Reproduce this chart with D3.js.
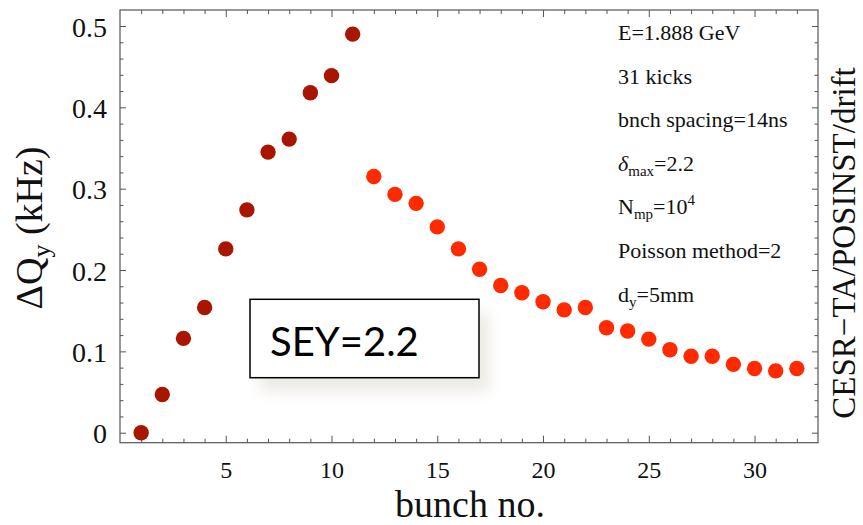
<!DOCTYPE html>
<html>
<head>
<meta charset="utf-8">
<script src="https://cdn.jsdelivr.net/npm/d3@7"></script>
<style>
  html, body { margin: 0; padding: 0; background: #fff; }
  svg { display: block; }
  .axis text { font-family: "Liberation Serif", "Times New Roman", serif; fill: #111; }
  .axis line { stroke: #555; }
</style>
</head>
<body>
<svg id="chart"></svg>
<script>
var width = 863, height = 525;

// bunches 1-11: build-up, 12-32: after the train
var riseBunch = [1, 2, 3, 4, 5, 6, 7, 8, 9, 10, 11];
var riseDQ = [0.000, 0.047, 0.116, 0.154, 0.226, 0.274, 0.345, 0.361, 0.418, 0.439, 0.490];
var decayBunch = [12, 13, 14, 15, 16, 17, 18, 19, 20, 21, 22, 23, 24, 25, 26, 27, 28, 29, 30, 31, 32];
var decayDQ = [0.315, 0.293, 0.282, 0.253, 0.226, 0.201, 0.181, 0.172, 0.161, 0.151, 0.154,
               0.129, 0.125, 0.115, 0.102, 0.094, 0.094, 0.084, 0.079, 0.076, 0.079];

var xMajor = [5, 10, 15, 20, 25, 30];
var yMajor = [0, 0.1, 0.2, 0.3, 0.4, 0.5];

var svg = d3.select("#chart").attr("width", width).attr("height", height);
svg.append("rect").attr("width", width).attr("height", height).attr("fill", "#fff");

var plot = {left: 120, top: 10, right: 818, bottom: 442.7};

var x = d3.scaleLinear().domain([0, 33]).range([plot.left, plot.right]);
var y = d3.scaleLinear().domain([-0.0123, 0.5197]).range([plot.bottom, plot.top]);

var xMinor = d3.range(1, 33).filter(function(d){ return d % 5 !== 0; });
var yMinor = d3.range(0, 0.52, 0.02).filter(function(d){ return Math.abs(d * 10 - Math.round(d * 10)) > 1e-6; });

// frame
svg.append("rect")
  .attr("x", plot.left).attr("y", plot.top)
  .attr("width", plot.right - plot.left).attr("height", plot.bottom - plot.top)
  .attr("fill", "none").attr("stroke", "#555").attr("stroke-width", 1.2);

function addAxis(axisFn, scale, ticks, size, pos, labels) {
  var ax = axisFn(scale).tickValues(ticks).tickSizeInner(-size).tickSizeOuter(0);
  if (!labels) ax.tickFormat("");
  var g = svg.append("g").attr("class", "axis").attr("transform", pos).call(ax);
  g.select(".domain").remove();
  return g;
}

// bottom
var gx = addAxis(d3.axisBottom, x, xMajor, 7, "translate(0," + plot.bottom + ")", true);
gx.selectAll("text").attr("y", 35).attr("dy", null).style("font-size", "24px");
addAxis(d3.axisBottom, x, xMinor, 4, "translate(0," + plot.bottom + ")", false);
// top
addAxis(d3.axisTop, x, xMajor, 7, "translate(0," + plot.top + ")", false);
addAxis(d3.axisTop, x, xMinor, 4, "translate(0," + plot.top + ")", false);
// left
var gy = addAxis(d3.axisLeft, y, yMajor, 6, "translate(" + plot.left + ",0)", true);
gy.selectAll("text")
  .text(function(d){ return d === 0 ? "0" : d.toFixed(1); })
  .attr("x", -13).attr("dy", "0.36em").style("font-size", "28px");
addAxis(d3.axisLeft, y, yMinor, 3.5, "translate(" + plot.left + ",0)", false);
// right
addAxis(d3.axisRight, y, yMajor, 6, "translate(" + plot.right + ",0)", false);
addAxis(d3.axisRight, y, yMinor, 3.5, "translate(" + plot.right + ",0)", false);

// points
var rise = riseBunch.map(function(b, i){ return {b: b, v: riseDQ[i]}; });
var decay = decayBunch.map(function(b, i){ return {b: b, v: decayDQ[i]}; });

svg.append("g").selectAll("circle").data(rise).enter().append("circle")
  .attr("cx", function(d){ return x(d.b); })
  .attr("cy", function(d){ return y(d.v); })
  .attr("r", 7.7).attr("fill", "#a81600");

svg.append("g").selectAll("circle").data(decay).enter().append("circle")
  .attr("cx", function(d){ return x(d.b); })
  .attr("cy", function(d){ return y(d.v); })
  .attr("r", 7.7).attr("fill", "#ff2a00");

// axis titles
var serif = "'Liberation Serif', 'Times New Roman', serif";

svg.append("text")
  .attr("x", (plot.left + plot.right) / 2 + 1).attr("y", 517)
  .attr("text-anchor", "middle")
  .style("font-family", serif).style("font-size", "38px").attr("fill", "#111")
  .text("bunch no.");

var yl = svg.append("text")
  .attr("transform", "translate(42,228) rotate(-90)")
  .attr("text-anchor", "middle")
  .style("font-family", serif).style("font-size", "38px").attr("fill", "#111");
yl.append("tspan").text("\u0394Q");
yl.append("tspan").attr("dy", 8).style("font-size", "26px").text("y");
yl.append("tspan").attr("dy", -8).text(" (kHz)");

svg.append("text")
  .attr("transform", "translate(855,243) rotate(-90)")
  .attr("text-anchor", "middle")
  .style("font-family", serif).style("font-size", "33px").attr("fill", "#111")
  .text("CESR\u2212TA/POSINST/drift");

// parameter list
var noteX = 618, noteY0 = 40, noteDy = 43.6;
var notes = svg.append("g")
  .style("font-family", serif).style("font-size", "22px").attr("fill", "#111");

function note(i) {
  return notes.append("text").attr("x", noteX).attr("y", noteY0 + i * noteDy);
}
note(0).text("E=1.888 GeV");
note(1).text("31 kicks");
note(2).text("bnch spacing=14ns");
var n3 = note(3);
n3.append("tspan").style("font-style", "italic").text("\u03b4");
n3.append("tspan").attr("dy", 5).style("font-size", "15px").text("max");
n3.append("tspan").attr("dy", -5).text("=2.2");
var n4 = note(4);
n4.append("tspan").text("N");
n4.append("tspan").attr("dy", 5).style("font-size", "15px").text("mp");
n4.append("tspan").attr("dy", -5).text("=10");
n4.append("tspan").attr("dy", -9).style("font-size", "15px").text("4");
note(5).text("Poisson method=2");
var n6 = note(6);
n6.append("tspan").text("d");
n6.append("tspan").attr("dy", 5).style("font-size", "15px").text("y");
n6.append("tspan").attr("dy", -5).text("=5mm");

// SEY label box with soft shadow
var defs = svg.append("defs");
defs.append("filter").attr("id", "soft").attr("x", "-50%").attr("y", "-50%")
  .attr("width", "200%").attr("height", "200%")
  .append("feGaussianBlur").attr("stdDeviation", 7);

var box = {x: 250, y: 299.3, w: 229, h: 78.4};
svg.append("rect")
  .attr("x", box.x + 10).attr("y", box.y + 14)
  .attr("width", box.w).attr("height", box.h)
  .attr("fill", "#8a8060").attr("opacity", 0.16).attr("filter", "url(#soft)");
svg.append("rect")
  .attr("x", box.x).attr("y", box.y).attr("width", box.w).attr("height", box.h)
  .attr("fill", "#fff").attr("stroke", "#000").attr("stroke-width", 1.5);
svg.append("text")
  .attr("x", 270).attr("y", 356)
  .style("font-family", "Lato, 'Open Sans', sans-serif").style("font-size", "40px")
  .attr("fill", "#000")
  .text("SEY=2.2");
</script>
</body>
</html>
